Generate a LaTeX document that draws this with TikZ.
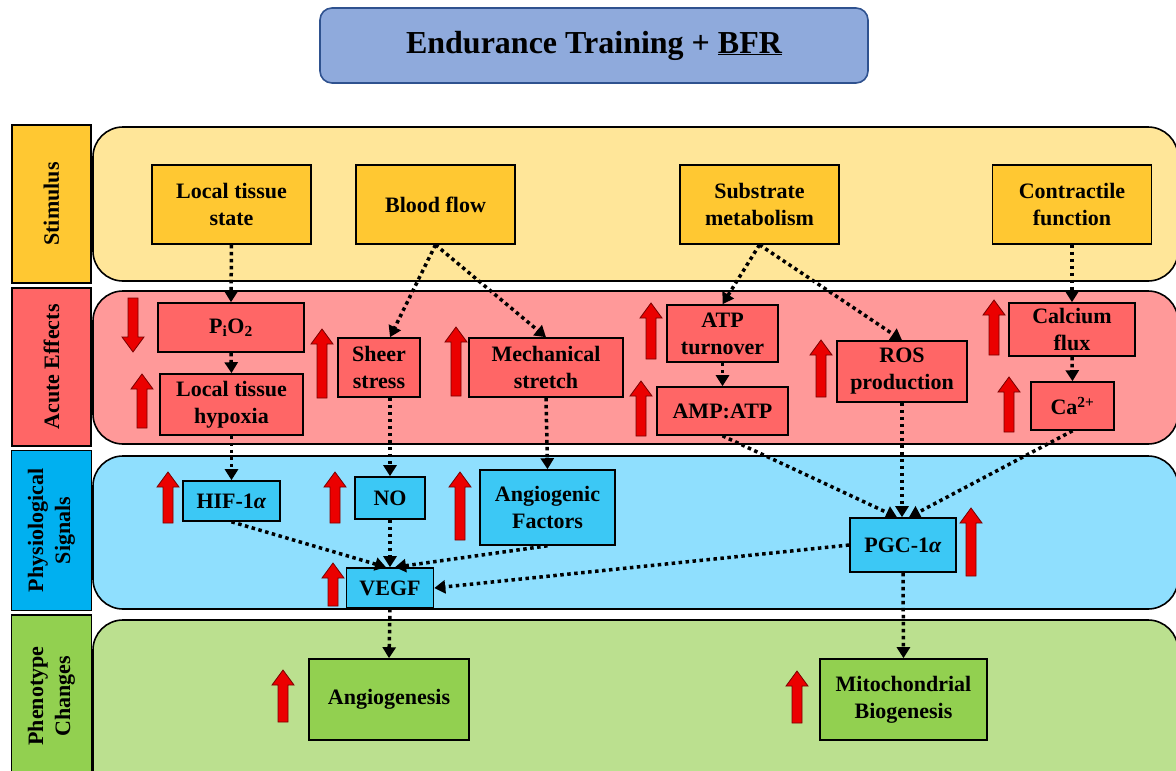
\documentclass[tikz,border=0pt]{standalone}
\usepackage{fontspec}
\setmainfont{Liberation Serif}
\usepackage{tikz}
\usetikzlibrary{arrows.meta}
\definecolor{titleblue}{RGB}{143,170,220}
\definecolor{titleedge}{RGB}{47,82,143}
\definecolor{stimlane}{RGB}{255,230,153}
\definecolor{stimbox}{RGB}{255,200,50}
\definecolor{acutelane}{RGB}{255,153,153}
\definecolor{acutebox}{RGB}{255,102,102}
\definecolor{physlane}{RGB}{143,223,254}
\definecolor{physbox}{RGB}{60,200,245}
\definecolor{physlabel}{RGB}{0,176,240}
\definecolor{phenlane}{RGB}{187,224,143}
\definecolor{phenbox}{RGB}{146,208,80}
\definecolor{arrowred}{RGB}{235,0,0}
\definecolor{arrowedge}{RGB}{120,0,0}
\tikzset{%
  lane/.style={draw=black, line width=1.6pt, rounded corners=30},
  tag/.style={draw=black, line width=1.6pt, rotate=90, inner sep=0pt, align=center,
    font=\bfseries\fontsize{22}{27}\selectfont},
  box/.style={draw=black, line width=1.6pt, inner sep=0pt, align=center,
    font=\bfseries\fontsize{22}{27}\selectfont},
  stim/.style={box, fill=stimbox, minimum width=159, minimum height=79},
  acute/.style={box, fill=acutebox},
  phys/.style={box, fill=physbox},
  phen/.style={box, fill=phenbox, minimum height=81},
  link/.style={-{Triangle[width=13pt,length=11pt]}, line width=3.5pt, dash pattern=on 3.5pt off 3.5pt},
  redup/.style={fill=arrowred, draw=arrowedge, line width=0.8pt}
}
\begin{document}
\begin{tikzpicture}[x=1pt, y=-1pt]
  \useasboundingbox (0,0) rectangle (1176,771);

  \node[draw=titleedge, fill=titleblue, line width=1.6pt, rounded corners=12,
        minimum width=548, minimum height=75,
        font=\bfseries\fontsize{32}{36}\selectfont] (title) at (594,45.5)
        {Endurance Training + \underline{BFR}};

  % lanes
  \draw[lane, fill=stimlane]  (93,127) rectangle (1178,281);
  \draw[lane, fill=acutelane] (93,291) rectangle (1178,444);
  \draw[lane, fill=physlane]  (93,456) rectangle (1178,609);
  \draw[lane, fill=phenlane]  (93,620) rectangle (1178,800);

  % row labels
  \node[tag, fill=stimbox, minimum width=158, minimum height=79]    (tstim)  at (51.5,204)   {Stimulus};
  \node[tag, fill=acutebox, minimum width=158, minimum height=79]   (tacute) at (51.5,367)   {Acute Effects};
  \node[tag, fill=physlabel, minimum width=160, minimum height=80]  (tphys)  at (51.5,530.5) {Physiological\\Signals};
  \node[tag, fill=phenbox, minimum width=162, minimum height=80]    (tphen)  at (51.5,696)   {Phenotype\\Changes};

  % stimulus
  \node[stim] (local) at (231.5,204.5)  {Local tissue\\state};
  \node[stim] (blood) at (435.5,204.5)  {Blood flow};
  \node[stim] (subst) at (759.5,204.5)  {Substrate\\metabolism};
  \node[stim] (contr) at (1072,204.5)   {Contractile\\function};

  % acute effects
  \node[acute, minimum width=146, minimum height=49] (pio)     at (231,327.5)   {P\textsubscript{i}O\textsubscript{2}};
  \node[acute, minimum width=143, minimum height=61] (hypoxia) at (231.5,404.5) {Local tissue\\hypoxia};
  \node[acute, minimum width=82, minimum height=59]  (sheer)   at (379,367.5)   {Sheer\\stress};
  \node[acute, minimum width=154, minimum height=59] (mech)    at (546,367.5)   {Mechanical\\stretch};
  \node[acute, minimum width=111, minimum height=57] (atp)     at (722.5,333.5) {ATP\\turnover};
  \node[acute, minimum width=131, minimum height=48] (amp)     at (722.5,411)   {AMP:ATP};
  \node[acute, minimum width=130, minimum height=61] (ros)     at (902,371.5)   {ROS\\production};
  \node[acute, minimum width=126, minimum height=53] (calc)    at (1072,329.5)  {Calcium\\flux};
  \node[acute, minimum width=83, minimum height=48]  (ca)      at (1072.5,406)  {Ca\textsuperscript{2+}};

  % physiological signals
  \node[phys, minimum width=97, minimum height=40]  (hif)    at (231.5,501)   {HIF-1\textit{α}};
  \node[phys, minimum width=70, minimum height=42]  (no)     at (390,498)     {NO};
  \node[phys, minimum width=135, minimum height=75] (angfac) at (547.5,507.5) {Angiogenic\\Factors};
  \node[phys, minimum width=87, minimum height=40]  (vegf)   at (390,588)     {VEGF};
  \node[phys, minimum width=106, minimum height=54] (pgc)    at (903,545)     {PGC-1\textit{α}};

  % phenotype changes
  \node[phen, minimum width=160] (angio) at (389,699.5)   {Angiogenesis};
  \node[phen, minimum width=167] (mito)  at (903.5,699.5) {Mitochondrial\\Biogenesis};

  % red arrows
  \foreach \x/\t/\b in {142/374/428, 322/329/398, 456/327/396, 651/303/359, 641/381/436,
                        821/340/397, 994/300/355, 1009/377/432, 168/472/523, 335/472/523,
                        460/472/540, 333/563/606, 283/670/722, 971/508/576, 797/671/723}
    \draw[redup] (\x-5,\b) -- (\x-5,\t+15) -- (\x-11,\t+15) -- (\x,\t)
                 -- (\x+11,\t+15) -- (\x+5,\t+15) -- (\x+5,\b) -- cycle;
  \draw[redup] (128,298) -- (128,337) -- (122,337) -- (133,352) -- (144,337) -- (138,337) -- (138,298) -- cycle;

  % links
  \draw[link] (local.south) -- (pio.north);
  \draw[link] (pio.south) -- (hypoxia.north);
  \draw[link] (hypoxia.south) -- (hif.north);
  \draw[link] (blood.south) -- (no.north |- sheer.north);
  \draw[link] (blood.south) -- (mech.north);
  \draw[link] (no.north |- sheer.south) -- (no.north);
  \draw[link] (mech.south) -- (angfac.north);
  \draw[link] (subst.south) -- (atp.north);
  \draw[link] (subst.south) -- (ros.north);
  \draw[link] (atp.south) -- (amp.north);
  \draw[link] (contr.south) -- (calc.north);
  \draw[link] (calc.south) -- (ca.north);
  \draw[link] (amp.south) -- ([xshift=-6]pgc.north);
  \draw[link] (ros.south) -- (ros.south |- pgc.north);
  \draw[link] (ca.south) -- ([xshift=6]pgc.north);
  \draw[link] (hif.south) -- ([xshift=-4]vegf.north);
  \draw[link] (no.south) -- (vegf.north);
  \draw[link] (angfac.south) -- ([xshift=5]vegf.north);
  \draw[link] (pgc.west) -- (vegf.east);
  \draw[link] (vegf.south) -- (angio.north);
  \draw[link] (pgc.south) -- (mito.north);
\end{tikzpicture}
\end{document}
